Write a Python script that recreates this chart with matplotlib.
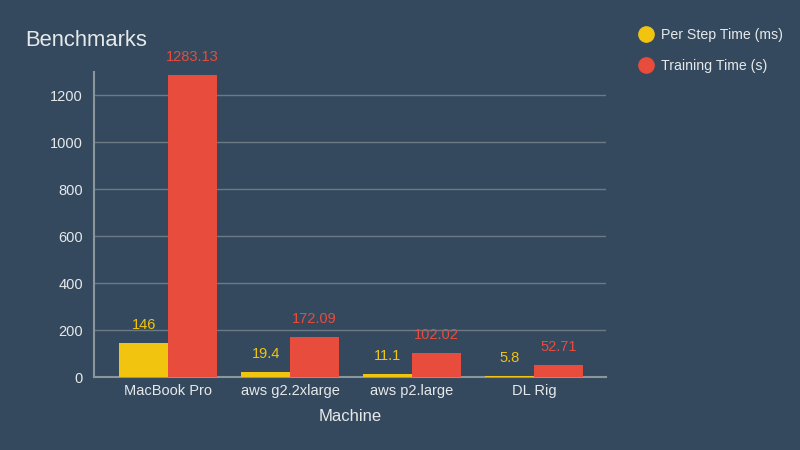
import matplotlib
matplotlib.use("Agg")
import matplotlib.pyplot as plt
import numpy as np
from matplotlib.lines import Line2D

plt.rcParams["font.family"] = ["Liberation Sans", "DejaVu Sans"]

# data
machines = ["MacBook Pro", "aws g2.2xlarge", "aws p2.large", "DL Rig"]
step_time = [146, 19.4, 11.1, 5.8]
train_time = [1283.13, 172.09, 102.02, 52.71]
step_labels = ["146", "19.4", "11.1", "5.8"]
train_labels = ["1283.13", "172.09", "102.02", "52.71"]
series_names = ["Per Step Time (ms)", "Training Time (s)"]

bg = "#34495e"
yellow = "#f1c40f"
red = "#e74c3c"
txt = "#e6e9ea"
axis_col = "#8a959c"
grid_col = "#6c7a86"

fig = plt.figure(figsize=(8, 4.5), dpi=100, facecolor=bg)
ax = fig.add_axes([0.1175, 0.1622, 0.64, 0.6778], facecolor=bg)

x = np.arange(len(machines))
w = 0.4
b1 = ax.bar(x - w / 2, step_time, w, color=yellow, zorder=3)
b2 = ax.bar(x + w / 2, train_time, w, color=red, zorder=3)

for rect, lab in zip(b1, step_labels):
    ax.annotate(lab, (rect.get_x() + rect.get_width() / 2, rect.get_height()),
                xytext=(0, 13), textcoords="offset points", ha="center", va="center",
                color=yellow, fontsize=10.5)
for rect, lab in zip(b2, train_labels):
    ax.annotate(lab, (rect.get_x() + rect.get_width() / 2, rect.get_height()),
                xytext=(0, 13), textcoords="offset points", ha="center", va="center",
                color=red, fontsize=10.5)

ax.set_xlim(-0.607, 3.59)
ax.set_ylim(0, 1298)
ax.set_yticks([0, 200, 400, 600, 800, 1000, 1200])
ax.set_xticks(x)
ax.set_xticklabels(machines)
ax.tick_params(axis="both", length=0, colors=txt, labelsize=10.5, pad=8)
ax.tick_params(axis="x", pad=5)
ax.yaxis.grid(True, color=grid_col, linewidth=1, zorder=0)
ax.set_axisbelow(True)
for s in ["top", "right"]:
    ax.spines[s].set_visible(False)
for s in ["left", "bottom"]:
    ax.spines[s].set_color(axis_col)
    ax.spines[s].set_linewidth(1.5)

ax.set_xlabel("Machine", color=txt, fontsize=12, labelpad=8)
fig.text(0.031, 0.911, "Benchmarks", color=txt, fontsize=15.8, va="center", ha="left")

handles = [Line2D([], [], marker="o", linestyle="", markersize=11, color=c)
           for c in [yellow, red]]
leg = fig.legend(handles, series_names, loc="upper left", bbox_to_anchor=(0.778, 0.966),
                 frameon=False, fontsize=10.2, labelcolor=txt, handletextpad=0.35,
                 labelspacing=1.2, handlelength=1.5)

fig.savefig("out.png", dpi=100, facecolor=bg)
